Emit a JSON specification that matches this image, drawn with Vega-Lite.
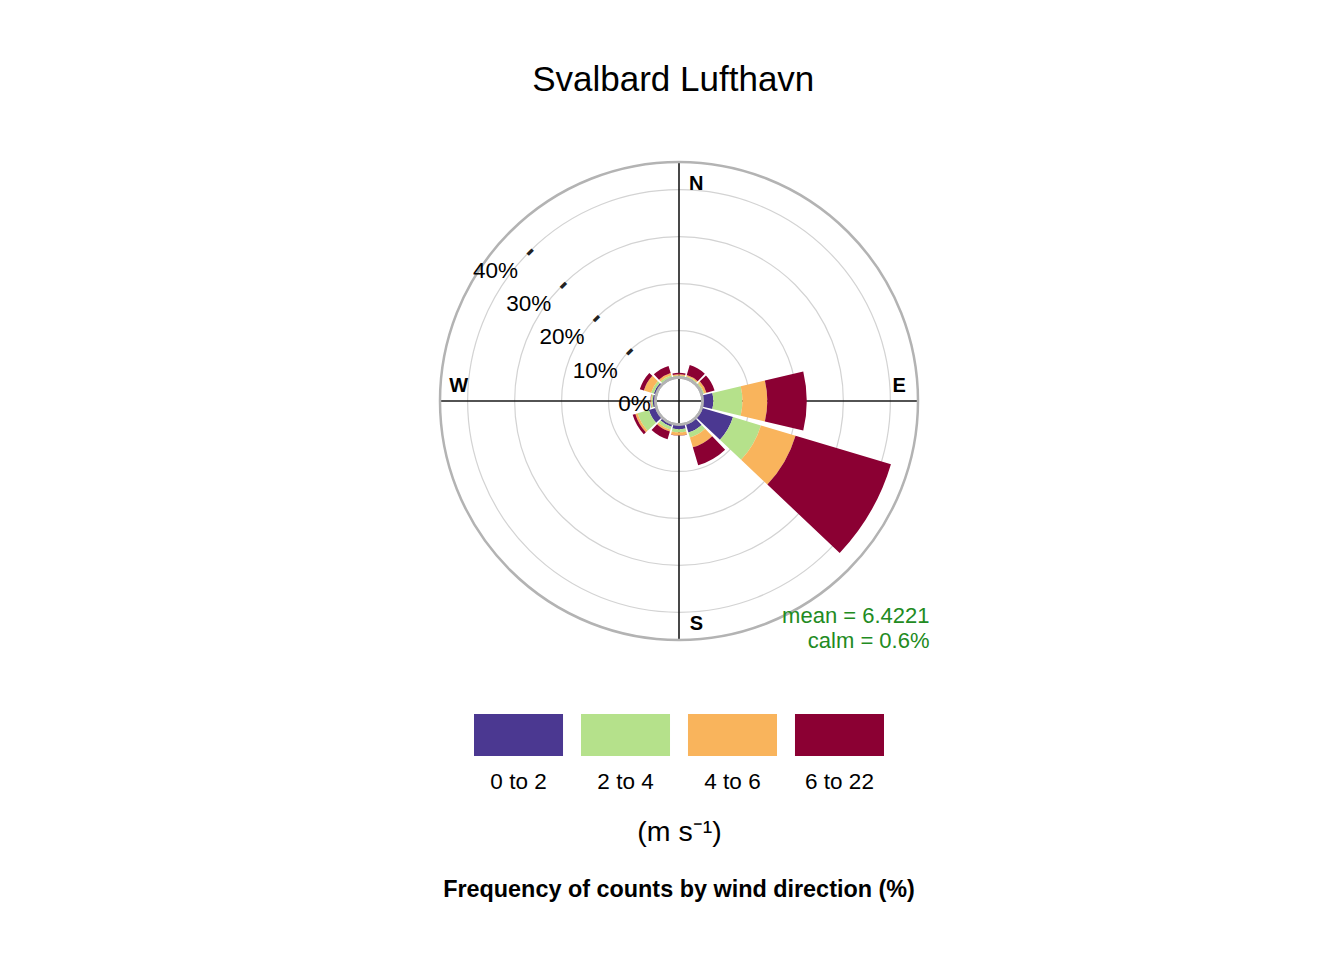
{
  "$schema": "https://vega.github.io/schema/vega-lite/v6.json",
  "padding": {"left": 435, "top": 63, "right": 0, "bottom": 0},
  "background": "white",
  "title": {"text": "Svalbard Lufthavn", "fontSize": 35, "fontWeight": "normal", "color": "black", "anchor": "middle", "dx": -9, "offset": 31, "baseline": "alphabetic"},
  "config": {"view": {"stroke": null}, "font": "Liberation Sans"},
  "bounds": "flush",
  "center": true,
  "spacing": 73,
  "datasets": {
    "rose": [
      {"dir": 0, "spd": "0 to 2", "freq": 0.15}, {"dir": 0, "spd": "2 to 4", "freq": 0.3}, {"dir": 0, "spd": "4 to 6", "freq": 0.25}, {"dir": 0, "spd": "6 to 22", "freq": 0.3},
      {"dir": 30, "spd": "0 to 2", "freq": 0.25}, {"dir": 30, "spd": "2 to 4", "freq": 0.25}, {"dir": 30, "spd": "4 to 6", "freq": 0.3}, {"dir": 30, "spd": "6 to 22", "freq": 2.2},
      {"dir": 60, "spd": "0 to 2", "freq": 0.3}, {"dir": 60, "spd": "2 to 4", "freq": 0.3}, {"dir": 60, "spd": "4 to 6", "freq": 0.5}, {"dir": 60, "spd": "6 to 22", "freq": 1.8},
      {"dir": 90, "spd": "0 to 2", "freq": 2.3}, {"dir": 90, "spd": "2 to 4", "freq": 6.2}, {"dir": 90, "spd": "4 to 6", "freq": 5.3}, {"dir": 90, "spd": "6 to 22", "freq": 8.4},
      {"dir": 120, "spd": "0 to 2", "freq": 7.0}, {"dir": 120, "spd": "2 to 4", "freq": 6.2}, {"dir": 120, "spd": "4 to 6", "freq": 7.7}, {"dir": 120, "spd": "6 to 22", "freq": 21.2},
      {"dir": 150, "spd": "0 to 2", "freq": 2.0}, {"dir": 150, "spd": "2 to 4", "freq": 1.1}, {"dir": 150, "spd": "4 to 6", "freq": 2.2}, {"dir": 150, "spd": "6 to 22", "freq": 4.0},
      {"dir": 180, "spd": "0 to 2", "freq": 1.0}, {"dir": 180, "spd": "2 to 4", "freq": 0.65}, {"dir": 180, "spd": "4 to 6", "freq": 0.7}, {"dir": 180, "spd": "6 to 22", "freq": 0.05},
      {"dir": 210, "spd": "0 to 2", "freq": 0.7}, {"dir": 210, "spd": "2 to 4", "freq": 0.7}, {"dir": 210, "spd": "4 to 6", "freq": 0.4}, {"dir": 210, "spd": "6 to 22", "freq": 1.7},
      {"dir": 240, "spd": "0 to 2", "freq": 1.7}, {"dir": 240, "spd": "2 to 4", "freq": 2.5}, {"dir": 240, "spd": "4 to 6", "freq": 0.5}, {"dir": 240, "spd": "6 to 22", "freq": 0.6},
      {"dir": 270, "spd": "0 to 2", "freq": 0.6}, {"dir": 270, "spd": "2 to 4", "freq": 0.3}, {"dir": 270, "spd": "4 to 6", "freq": 0.15}, {"dir": 270, "spd": "6 to 22", "freq": 0.05},
      {"dir": 300, "spd": "0 to 2", "freq": 0.6}, {"dir": 300, "spd": "2 to 4", "freq": 0.6}, {"dir": 300, "spd": "4 to 6", "freq": 1.6}, {"dir": 300, "spd": "6 to 22", "freq": 0.9},
      {"dir": 330, "spd": "0 to 2", "freq": 0.25}, {"dir": 330, "spd": "2 to 4", "freq": 0.45}, {"dir": 330, "spd": "4 to 6", "freq": 0.5}, {"dir": 330, "spd": "6 to 22", "freq": 1.6}
    ],
    "bins": [{"spd": "0 to 2"}, {"spd": "2 to 4"}, {"spd": "4 to 6"}, {"spd": "6 to 22"}],
    "grid": [{"pct": 10}, {"pct": 20}, {"pct": 30}, {"pct": 40}],
    "pctlab": [{"pct": 0, "lab": "0%"}, {"pct": 10, "lab": "10%"}, {"pct": 20, "lab": "20%"}, {"pct": 30, "lab": "30%"}, {"pct": 40, "lab": "40%"}],
    "ns": [{"dir": 0, "lab": "N"}, {"dir": 180, "lab": "S"}],
    "ew": [{"dir": 90, "lab": "E"}, {"dir": 270, "lab": "W"}],
    "one": [{}]
  },
  "vconcat": [
    {
      "width": 480,
      "height": 480,
      "layer": [
        {
          "data": {"name": "grid"},
          "mark": {"type": "arc", "filled": false, "stroke": "#d3d3d3", "strokeWidth": 1.2},
          "encoding": {
            "theta": {"datum": 0, "type": "quantitative", "scale": {"domain": [0, 360], "range": [0, 6.283185307179586]}},
            "theta2": {"datum": 360},
            "radius": {"field": "pct", "type": "quantitative", "stack": null, "scale": {"type": "linear", "domain": [0, 45.9], "range": [23.5, 239], "zero": false, "nice": false}}
          }
        },
        {
          "data": {"name": "one"},
          "mark": {"type": "rule", "color": "#1a1a1a", "strokeWidth": 1.6},
          "encoding": {
            "x": {"datum": 0, "type": "quantitative", "scale": {"domain": [-1, 1], "nice": false, "zero": false}, "axis": null}
          }
        },
        {
          "data": {"name": "one"},
          "mark": {"type": "rule", "color": "#1a1a1a", "strokeWidth": 1.6},
          "encoding": {
            "y": {"datum": 0, "type": "quantitative", "scale": {"domain": [-1, 1], "nice": false, "zero": false}, "axis": null}
          }
        },
        {
          "data": {"name": "rose"},
          "transform": [
            {"stack": "freq", "groupby": ["dir"], "sort": [{"field": "spd", "order": "ascending"}], "as": ["r0", "r1"]},
            {"calculate": "datum.dir - 13.4", "as": "a0"},
            {"calculate": "datum.dir + 13.4", "as": "a1"}
          ],
          "mark": {"type": "arc"},
          "encoding": {
            "theta": {"field": "a0", "type": "quantitative", "stack": null},
            "theta2": {"field": "a1"},
            "radius": {"field": "r1", "type": "quantitative", "stack": null},
            "radius2": {"field": "r0"},
            "color": {
              "field": "spd", "type": "nominal",
              "scale": {"domain": ["0 to 2", "2 to 4", "4 to 6", "6 to 22"], "range": ["#4B3891", "#B5E18B", "#F9B45C", "#8B0033"]},
              "legend": null
            }
          }
        },
        {
          "data": {"name": "one"},
          "mark": {"type": "arc", "fill": "white", "stroke": "#b0b0b0", "strokeWidth": 2.6},
          "encoding": {
            "theta": {"datum": 0, "type": "quantitative"},
            "theta2": {"datum": 360},
            "radius": {"datum": 0, "type": "quantitative", "stack": null}
          }
        },
        {
          "data": {"name": "one"},
          "mark": {"type": "arc", "filled": false, "stroke": "#b3b3b3", "strokeWidth": 2.5},
          "encoding": {
            "theta": {"datum": 0, "type": "quantitative"},
            "theta2": {"datum": 360},
            "radius": {"datum": 45.9, "type": "quantitative", "stack": null}
          }
        },
        {
          "data": {"name": "grid"},
          "mark": {"type": "text", "text": "-", "fontSize": 28, "fontWeight": "bold", "angle": 315, "align": "center", "baseline": "middle", "color": "#222222"},
          "encoding": {
            "theta": {"datum": 315, "type": "quantitative"},
            "radius": {"field": "pct", "type": "quantitative", "stack": null}
          }
        },
        {
          "data": {"name": "pctlab"},
          "mark": {"type": "text", "fontSize": 22.5, "align": "right", "baseline": "middle", "dx": -11.5, "dy": 19.5, "color": "black"},
          "encoding": {
            "theta": {"datum": 315, "type": "quantitative"},
            "radius": {"field": "pct", "type": "quantitative", "stack": null},
            "text": {"field": "lab"}
          }
        },
        {
          "data": {"name": "ns"},
          "mark": {"type": "text", "fontSize": 20, "fontWeight": "bold", "align": "center", "baseline": "middle", "dx": 17.3, "dy": 3.2, "color": "black"},
          "encoding": {
            "theta": {"field": "dir", "type": "quantitative"},
            "radius": {"datum": 41.9, "type": "quantitative", "stack": null},
            "text": {"field": "lab"}
          }
        },
        {
          "data": {"name": "ew"},
          "mark": {"type": "text", "fontSize": 20, "fontWeight": "bold", "align": "center", "baseline": "middle", "dy": -15.3, "color": "black"},
          "encoding": {
            "theta": {"field": "dir", "type": "quantitative"},
            "radius": {"datum": 41.9, "type": "quantitative", "stack": null},
            "text": {"field": "lab"}
          }
        },
        {
          "data": {"values": [{"lab": "mean = 6.4221"}]},
          "mark": {"type": "text", "fontSize": 22, "align": "right", "baseline": "alphabetic", "color": "#228B22"},
          "encoding": {
            "x": {"datum": 1.04375, "type": "quantitative"},
            "y": {"datum": -0.925, "type": "quantitative"},
            "text": {"field": "lab"}
          }
        },
        {
          "data": {"values": [{"lab": "calm = 0.6%"}]},
          "mark": {"type": "text", "fontSize": 22, "align": "right", "baseline": "alphabetic", "color": "#228B22"},
          "encoding": {
            "x": {"datum": 1.04375, "type": "quantitative"},
            "y": {"datum": -1.0292, "type": "quantitative"},
            "text": {"field": "lab"}
          }
        }
      ]
    },
    {
      "width": 410,
      "height": 42,
      "data": {"name": "bins"},
      "title": {"text": "Frequency of counts by wind direction (%)", "orient": "bottom", "fontSize": 23.4, "fontWeight": "bold", "color": "black", "anchor": "middle", "offset": 33},
      "mark": {"type": "rect"},
      "encoding": {
        "x": {
          "field": "spd", "type": "nominal", "sort": null,
          "scale": {"paddingInner": 0.168, "paddingOuter": 0},
          "axis": {"title": "(m s⁻¹)", "orient": "bottom", "domain": false, "ticks": false, "tickSize": 0, "labelAngle": 0, "labelFontSize": 22.5, "labelColor": "black", "labelPadding": 14, "labelLimit": 0, "titleFontSize": 28.5, "titleFontWeight": "normal", "titleColor": "black", "titlePadding": 25}
        },
        "color": {
          "field": "spd", "type": "nominal",
          "scale": {"domain": ["0 to 2", "2 to 4", "4 to 6", "6 to 22"], "range": ["#4B3891", "#B5E18B", "#F9B45C", "#8B0033"]},
          "legend": null
        }
      }
    }
  ]
}
